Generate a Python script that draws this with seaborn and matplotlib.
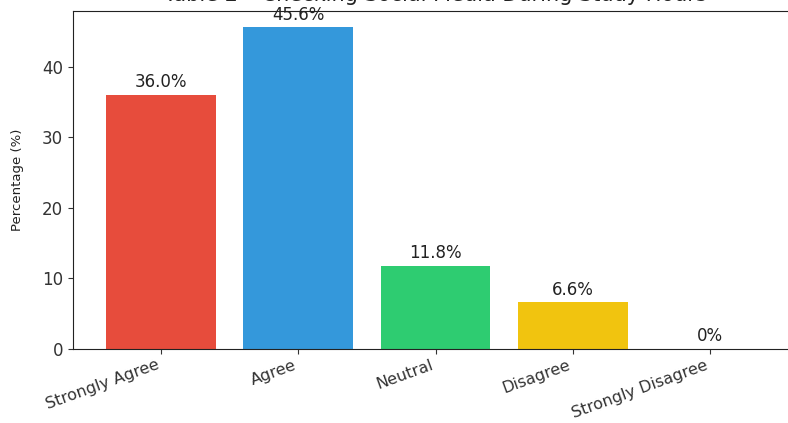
import matplotlib
matplotlib.use("Agg")
import matplotlib.pyplot as plt
import seaborn as sns
import pandas as pd

# Survey responses: checking social media during study hours
categories = ["Strongly Agree", "Agree", "Neutral", "Disagree", "Strongly Disagree"]
percentages = [36.0, 45.6, 11.8, 6.6, 0.0]
bar_colors = ["#e74c3c", "#3498db", "#2ecc71", "#f1c40f", "#9b59b6"]
title_text = "Table 2 – Checking Social Media During Study Hours"

df = pd.DataFrame({"Response": categories, "Percentage": percentages})

fig = plt.figure(figsize=(7.88, 4.23), dpi=100)
ax = fig.add_axes([73 / 788, 74 / 423, 725 / 788, 338 / 423])

sns.barplot(
    data=df, x="Response", y="Percentage", hue="Response",
    palette=bar_colors, width=0.8, legend=False, saturation=1, ax=ax,
)

ax.set_xlim(-0.64, len(categories) - 1 + 0.64)
ax.set_ylim(0, max(percentages) * 1.05)

for i, v in enumerate(percentages):
    label = f"{v:.1f}%" if v > 0 else "0%"
    ax.text(i, v + 0.5, label, ha="center", va="bottom",
            fontsize=12, color="#222222")

ax.set_title(title_text, fontsize=15, color="#222222", pad=7)
ax.set_xlabel("")
ax.set_ylabel("Percentage (%)", fontsize=9.5, color="#222222", labelpad=13)
ax.set_yticks([0, 10, 20, 30, 40])
ax.tick_params(axis="y", labelsize=12, colors="#333333")
ax.tick_params(axis="x", labelsize=11.5, colors="#333333", pad=2.5)
plt.setp(ax.get_xticklabels(), rotation=20, ha="right")

for spine in ax.spines.values():
    spine.set_color("#222222")

fig.savefig("out.png", dpi=100)
